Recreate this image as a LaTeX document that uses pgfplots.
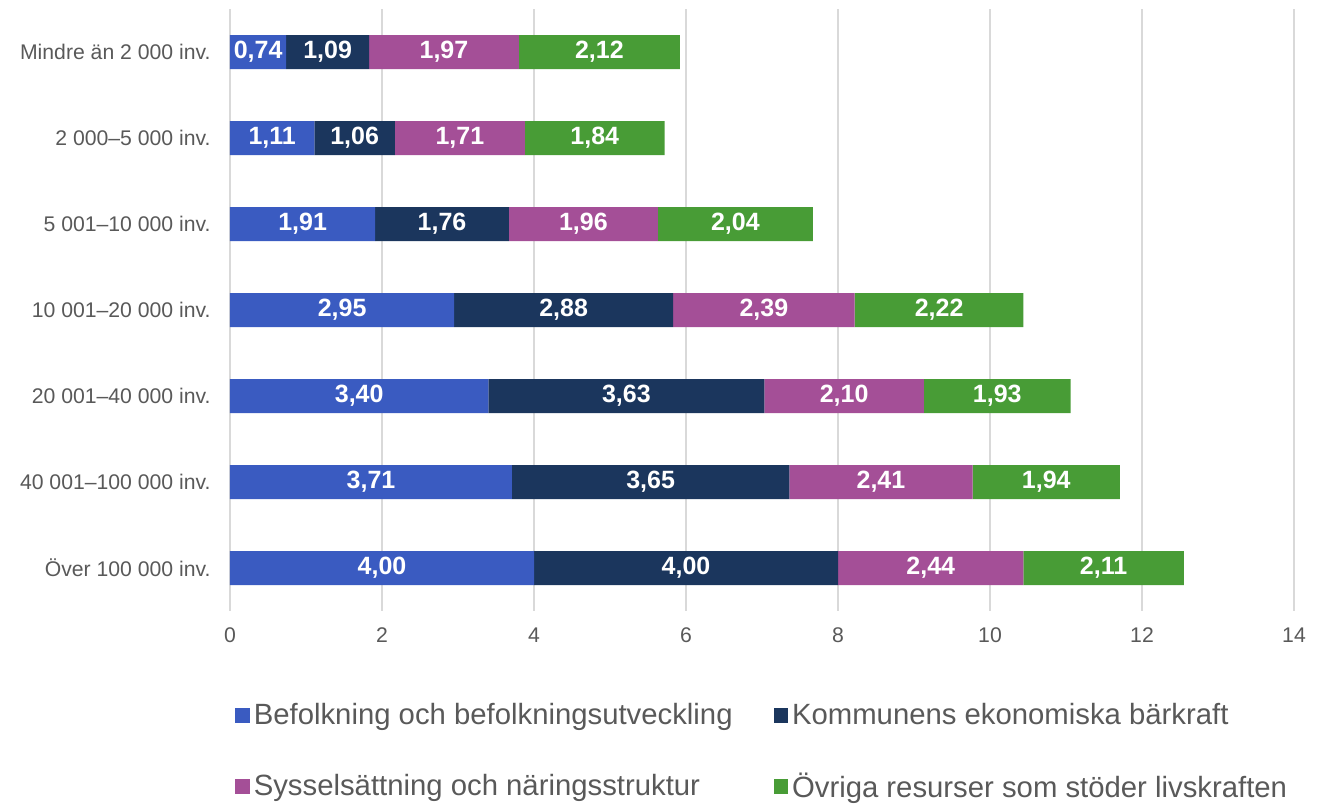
\documentclass[border=0pt]{standalone}
\usepackage{fontspec}
\setmainfont{Liberation Sans}
\usepackage{pgfplots}
\pgfplotsset{compat=1.18}
\definecolor{cA}{HTML}{3A5BC1}
\definecolor{cB}{HTML}{1B365D}
\definecolor{cC}{HTML}{A44F97}
\definecolor{cD}{HTML}{489C36}
\definecolor{txt}{HTML}{595959}
\definecolor{grd}{HTML}{D9D9D9}
\pgfplotsset{
  sqlegend/.style={legend image code/.code={\fill[##1] (-1.5pt,-3.6pt) rectangle (5.7pt,3.6pt);}},
}
\begin{document}
\begin{tikzpicture}
\begin{axis}[
  scale only axis, width=532pt, height=301pt,
  xbar stacked, bar width=17pt,
  xmin=0, xmax=14, ymin=-0.5, ymax=6.5, y dir=reverse,
  xtick={0,2,...,14},
  ytick={0,1,2,3,4,5,6},
  yticklabels={Mindre än 2 000 inv.,2 000–5 000 inv.,5 001–10 000 inv.,10 001–20 000 inv.,20 001–40 000 inv.,40 001–100 000 inv.,Över 100 000 inv.},
  xmajorgrids, grid style={grd, line width=0.75pt},
  axis line style={draw=none},
  major tick length=0pt,
  tick style={draw=none},
  /pgf/number format/assume math mode=true,
  ticklabel style={font=\fontsize{10.6}{12.7}\selectfont, text=txt},
  yticklabel style={inner sep=0pt, xshift=-9.5pt},
  xticklabel style={inner sep=0pt, yshift=-8pt},
  nodes near coords,
  point meta=rawx,
  every node near coord/.append style={/pgf/number format/fixed, /pgf/number format/fixed zerofill, /pgf/number format/precision=2, /pgf/number format/use comma, font=\fontsize{12.5}{14}\selectfont\bfseries, text=white, anchor=center},
  sqlegend,
  legend columns=2,
  legend cell align=left,
  legend style={draw=none, fill=none, inner sep=0pt, at={(0,0)}, anchor=north west, xshift=2.5pt, yshift=-44pt,
    font=\fontsize{14.65}{17}\selectfont, text=txt, row sep=18.5pt,
    /tikz/every even column/.append style={column sep=18.5pt},
    /tikz/every odd column/.append style={column sep=0pt}},
]
\addplot[fill=cA, draw=none] coordinates {(0.74,0) (1.11,1) (1.91,2) (2.95,3) (3.40,4) (3.71,5) (4.00,6)};
\addplot[fill=cB, draw=none] coordinates {(1.09,0) (1.06,1) (1.76,2) (2.88,3) (3.63,4) (3.65,5) (4.00,6)};
\addplot[fill=cC, draw=none] coordinates {(1.97,0) (1.71,1) (1.96,2) (2.39,3) (2.10,4) (2.41,5) (2.44,6)};
\addplot[fill=cD, draw=none] coordinates {(2.12,0) (1.84,1) (2.04,2) (2.22,3) (1.93,4) (1.94,5) (2.11,6)};
\legend{Befolkning och befolkningsutveckling,Kommunens ekonomiska bärkraft,Sysselsättning och näringsstruktur,Övriga resurser som stöder livskraften}
\end{axis}
\pgfresetboundingbox
\path[use as bounding box] (-115pt,-96pt) rectangle (547.5pt,305.5pt);
\end{tikzpicture}
\end{document}
